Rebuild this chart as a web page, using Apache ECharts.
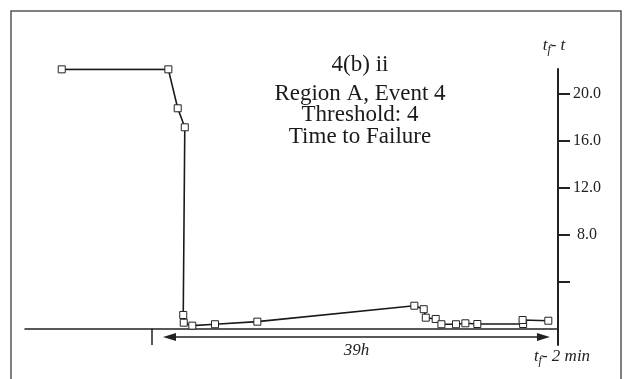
<!DOCTYPE html>
<html>
<head>
<meta charset="utf-8">
<script src="https://cdn.jsdelivr.net/npm/echarts@6/dist/echarts.min.js"></script>
<style>
  html, body { margin: 0; padding: 0; background: #fff; }
  #chart { width: 624px; height: 379px; }
</style>
</head>
<body>
<div id="chart"></div>
<script>
// time axis in hours (0 = start mark), value = time to failure
const hours = [-8.67, 1.57, 2.47, 3.15, 3.0, 3.05, 3.87, 6.05, 10.12, 25.2, 26.1, 26.3, 27.25, 27.8, 29.2, 30.1, 31.25, 35.65, 35.6, 38.07]
const timeToFailure = [22.1, 22.1, 18.78, 17.16, 1.16, 0.5, 0.25, 0.37, 0.59, 1.95, 1.65, 0.93, 0.82, 0.37, 0.37, 0.45, 0.39, 0.39, 0.73, 0.67]
const tickValues = [4, 8, 12, 16, 20]
const labelValues = [8, 12, 16, 20]
const spanStart = 1.68
const spanEnd = 37.6
const spanLevel = -0.72
const spanLabel = '39h'

const serif = "'Liberation Serif', 'Times New Roman', serif"
const chart = echarts.init(document.getElementById('chart'))

const italic = { fontFamily: serif, fontStyle: 'italic', fontWeight: 'normal', fontSize: 17, color: '#222' }
const italicSub = { fontFamily: serif, fontStyle: 'italic', fontWeight: 'normal', fontSize: 12, color: '#222', padding: [8, 0, 0, 0] }

const option = {
  animation: false,
  title: [
    {
      text: '4(b) ii',
      left: 360,
      top: 53,
      padding: 0,
      textAlign: 'center',
      textStyle: { fontFamily: serif, fontSize: 23, fontWeight: 'normal', color: '#1a1a1a' }
    },
    {
      text: 'Region A, Event 4\nThreshold: 4\nTime to Failure',
      left: 360,
      top: 83,
      padding: 0,
      textAlign: 'center',
      textStyle: { fontFamily: serif, fontSize: 23, fontWeight: 'normal', color: '#1a1a1a', lineHeight: 21.5 }
    },
    {
      text: '{i|t}{s|f}{i|- 2 min}',
      left: 562,
      top: 347,
      padding: 0,
      textAlign: 'center',
      textStyle: { fontWeight: 'normal', rich: { i: italic, s: italicSub } }
    }
  ],
  graphic: [
    {
      type: 'rect',
      shape: { x: 11, y: 11, width: 610, height: 380 },
      style: { fill: 'none', stroke: '#555', lineWidth: 1.5 },
      silent: true
    }
  ],
  grid: { left: 25, right: 66, top: 69, bottom: 34 },
  xAxis: {
    type: 'value',
    min: -12.2,
    max: 39.0,
    axisLine: { show: true, onZero: true, lineStyle: { color: '#222', width: 1.5 } },
    axisTick: { show: false },
    axisLabel: { show: false },
    splitLine: { show: false }
  },
  yAxis: {
    type: 'value',
    position: 'right',
    min: -1.4,
    max: 22.13,
    name: '{i|t}{s|f}{i|- t}',
    nameLocation: 'end',
    nameGap: 13,
    nameTextStyle: {
      padding: [0, 8, 0, 0],
      rich: { i: italic, s: italicSub }
    },
    axisLine: { show: true, onZero: false, lineStyle: { color: '#222', width: 2 } },
    axisTick: {
      show: true,
      length: 12,
      customValues: tickValues,
      lineStyle: { color: '#222', width: 2 }
    },
    axisLabel: {
      show: true,
      customValues: labelValues,
      margin: 29,
      align: 'center',
      fontFamily: serif,
      fontSize: 16,
      color: '#222',
      formatter: v => v.toFixed(1)
    },
    splitLine: { show: false }
  },
  series: [
    {
      type: 'line',
      data: hours.map((h, i) => [h, timeToFailure[i]]),
      symbol: 'rect',
      symbolSize: 7,
      showSymbol: true,
      lineStyle: { color: '#1a1a1a', width: 1.6 },
      itemStyle: { color: '#fff', borderColor: '#222', borderWidth: 1 },
      emphasis: { disabled: true },
      silent: true,
      markLine: {
        silent: true,
        animation: false,
        emphasis: { disabled: true },
        data: [
          [
            { coord: [0, 0], symbol: 'none' },
            { coord: [0, -1.4], symbol: 'none' }
          ],
          [
            { coord: [spanStart, spanLevel], symbol: 'triangle', symbolSize: [8, 13] },
            {
              coord: [spanEnd, spanLevel],
              symbol: 'triangle',
              symbolSize: [8, 13],
              label: {
                show: true,
                formatter: spanLabel,
                position: 'insideMiddleBottom',
                distance: 5,
                fontFamily: serif,
                fontStyle: 'italic',
                fontSize: 17,
                color: '#222'
              }
            }
          ]
        ],
        lineStyle: { color: '#222', width: 1.5, type: 'solid' },
        label: { show: false }
      }
    }
  ]
}

chart.setOption(option)
window.addEventListener('resize', () => chart.resize())
</script>
</body>
</html>
